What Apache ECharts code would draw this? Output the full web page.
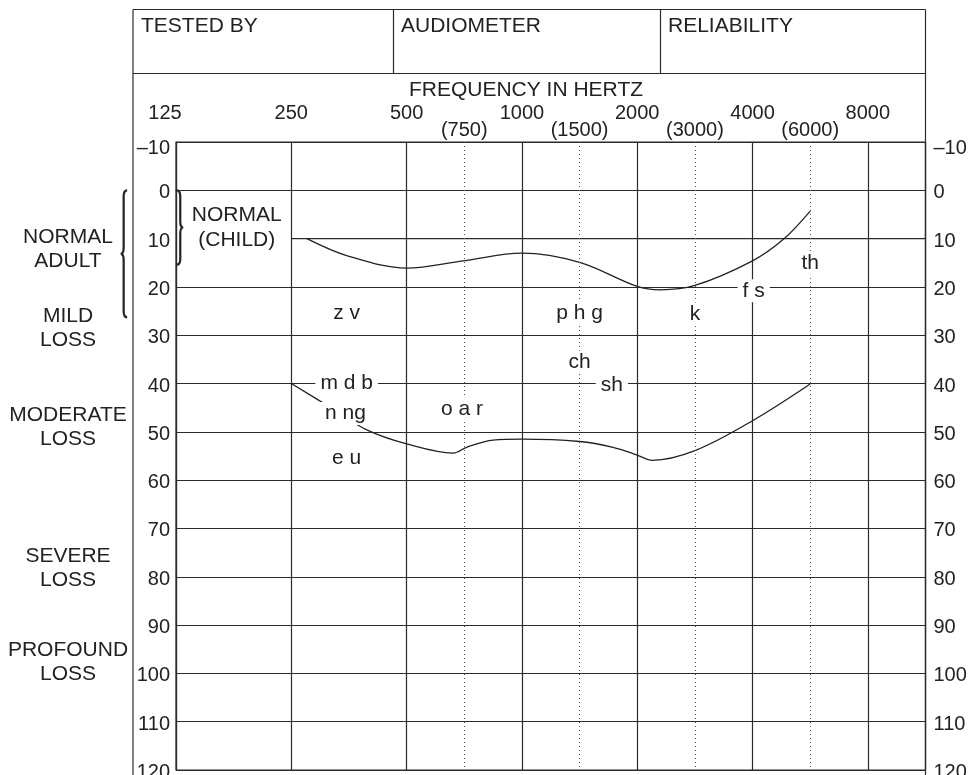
<!DOCTYPE html>
<html>
<head>
<meta charset="utf-8">
<style>
  html, body { margin: 0; padding: 0; background: #fff; }
  #chart { width: 970px; height: 775px; }
</style>
<script src="https://cdn.jsdelivr.net/npm/echarts@6/dist/echarts.min.js"></script>
</head>
<body>
<div id="chart"></div>
<script>
// ---- data ----
// x is measured in octaves from 125 Hz (0 = 125, 1 = 250, ... 6 = 8000); mid-octave lines at .5
const majorX = [0, 1, 2, 3, 4, 5, 6];
const majorLabels = ['125', '250', '500', '1000', '2000', '4000', '8000'];
const minorX = [2.5, 3.5, 4.5, 5.5];
const minorLabels = ['(750)', '(1500)', '(3000)', '(6000)'];
const yTicks = [-10, 0, 10, 20, 30, 40, 50, 60, 70, 80, 90, 100, 110, 120];

const lossBands = ['NORMAL\nADULT', 'MILD\nLOSS', 'MODERATE\nLOSS', 'SEVERE\nLOSS', 'PROFOUND\nLOSS'];
const lossBandDb = [12.1, 28.6, 49.1, 78.3, 97.6];

const headerLabels = ['TESTED BY', 'AUDIOMETER', 'RELIABILITY'];

// speech banana outlines (octave index, dB HL)
const upperCurve = [[1.135, 10], [1.48, 13.5], [2.0, 16.1], [2.49, 14.6], [3.0, 13.0], [3.5, 14.9],
  [4.0, 19.9], [4.2, 20.6], [4.5, 19.7], [5.0, 14.6], [5.27, 10.1], [5.5, 4.3]];
const lowerCurve = [[1, 40], [1.33, 44.8], [1.655, 49.6], [2.0, 52.5], [2.405, 54.4], [2.52, 53.2],
  [2.75, 51.7], [3.0, 51.5], [3.5, 52.0], [3.79, 53.2], [4.0, 54.8], [4.13, 55.9], [4.5, 53.9],
  [5.0, 47.7], [5.5, 40.1]];

// partial 10 dB grid line (absent under the NORMAL (CHILD) note)
const partialGrid10 = [[1, 10], [6.5, 10]];

// speech sounds [x, dB, text]
const sounds = [
  [1.48, 25.4, 'z v'], [3.5, 25.4, 'p h g'], [4.5, 25.6, 'k'], [5.01, 20.8, 'f s'], [5.5, 15.1, 'th'],
  [3.5, 35.6, 'ch'], [1.48, 40, 'm d b'], [3.78, 40.4, 'sh'], [1.47, 46.2, 'n ng'],
  [2.48, 45.3, 'o a r'], [1.48, 55.4, 'e u']
];
const notes = [[0.527, 7.8, 'NORMAL\n(CHILD)']];

// braces [x, dB top, dB bottom, pointing direction (-1 left, +1 right)]
const braces = [[-0.454, 0, 26.3, -1], [0.037, 0, 15.4, 1]];

// ---- chart ----
const INK = '#222';
const LINE = '#2a2a2a';
const FONT = '"Liberation Sans", Arial, Helvetica, sans-serif';
const chart = echarts.init(document.getElementById('chart'), null, { renderer: 'canvas' });

const GL = 176, GR = 925.5, GT = 142, GB = 770;

function dashNum(v) { return v < 0 ? '\u2013' + Math.abs(v) : String(v); }

const option = {
  animation: false,
  backgroundColor: '#fff',
  textStyle: { fontFamily: FONT, color: INK },
  grid: {
    left: GL, top: GT, width: GR - GL, height: GB - GT,
    outerBoundsMode: 'none', containLabel: false,
    show: true, borderColor: LINE, borderWidth: 1.2, backgroundColor: 'transparent'
  },
  xAxis: [
    {
      type: 'value', position: 'top', min: 0, max: 6.5, interval: 1,
      axisLine: { show: true, lineStyle: { color: LINE, width: 1.2 } },
      axisTick: { show: false },
      splitLine: { show: true, lineStyle: { color: LINE, width: 1.2 } },
      axisLabel: {
        margin: 19, fontSize: 20, color: INK, fontFamily: FONT,
        formatter: v => {
          const i = majorX.indexOf(v);
          if (i < 0) return '';
          return i === 0 ? '{a|' + majorLabels[i] + '}' : majorLabels[i];
        },
        rich: { a: { fontSize: 20, fontFamily: FONT, color: INK, padding: [0, 22, 0, 0] } }
      }
    },
    {
      type: 'value', position: 'top', min: 0, max: 6.5,
      axisLine: { show: false }, axisTick: { show: false }, splitLine: { show: false },
      axisLabel: {
        margin: 2, fontSize: 20, color: INK, fontFamily: FONT,
        customValues: minorX,
        formatter: v => { const i = minorX.indexOf(v); return i < 0 ? '' : minorLabels[i]; }
      }
    }
  ],
  yAxis: [
    {
      type: 'value', position: 'left', inverse: true, min: -10, max: 120, interval: 10,
      axisLine: { show: true, lineStyle: { color: LINE, width: 1.2 } },
      axisTick: { show: false },
      splitLine: {
        show: true,
        lineStyle: { color: yTicks.map(v => v === 10 ? 'rgba(0,0,0,0)' : LINE), width: 1.2 }
      },
      axisLabel: {
        margin: 6, fontSize: 20, color: INK, fontFamily: FONT, padding: [5, 0, 0, 0],
        formatter: v => v === -10 ? '{t|' + dashNum(v) + '}' : dashNum(v),
        rich: { t: { fontSize: 20, fontFamily: FONT, color: INK, padding: [8, 0, 0, 0] } }
      }
    },
    {
      type: 'value', position: 'right', inverse: true, min: -10, max: 120, interval: 10,
      axisLine: { show: false }, axisTick: { show: false }, splitLine: { show: false },
      axisLabel: {
        margin: 8, fontSize: 20, color: INK, fontFamily: FONT, padding: [5, 0, 0, 0],
        formatter: v => v === -10 ? '{t|' + dashNum(v) + '}' : dashNum(v),
        rich: { t: { fontSize: 20, fontFamily: FONT, color: INK, padding: [8, 0, 0, 0] } }
      }
    },
    {
      type: 'value', position: 'left', inverse: true, min: -10, max: 120,
      axisLine: { show: false }, axisTick: { show: false }, splitLine: { show: false },
      axisLabel: {
        margin: 108, align: 'center', fontSize: 21, lineHeight: 24, color: INK, fontFamily: FONT,
        customValues: lossBandDb,
        formatter: v => { const i = lossBandDb.indexOf(v); return i < 0 ? '' : lossBands[i]; }
      }
    }
  ],
  series: [
    {
      type: 'line', name: 'grid10', data: partialGrid10, symbol: 'none', silent: true,
      lineStyle: { color: LINE, width: 1.2 }, z: 1,
      markLine: {
        silent: true, symbol: 'none', label: { show: false },
        lineStyle: { color: '#555', width: 1, type: [1, 3] },
        data: minorX.map(v => ({ xAxis: v }))
      }
    },
    {
      type: 'line', name: 'upper', data: upperCurve, smooth: 0.35, symbol: 'none', silent: true,
      lineStyle: { color: INK, width: 1.3 }, z: 3
    },
    {
      type: 'line', name: 'lower', data: lowerCurve, smooth: 0.35, symbol: 'none', silent: true,
      lineStyle: { color: INK, width: 1.3 }, z: 3
    },
    {
      type: 'scatter', name: 'sounds', data: sounds, symbolSize: 1, silent: true, z: 6,
      itemStyle: { color: 'rgba(0,0,0,0)', opacity: 1 },
      label: {
        show: true, position: 'inside', formatter: p => p.data[2],
        fontSize: 21, fontFamily: FONT, color: INK, backgroundColor: '#fff', padding: [1, 5],
        textBorderWidth: 0, textBorderColor: 'transparent', opacity: 1
      }
    },
    {
      type: 'scatter', name: 'notes', data: notes, symbolSize: 1, silent: true, z: 6,
      itemStyle: { color: 'rgba(0,0,0,0)', opacity: 1 },
      label: {
        show: true, position: 'inside', formatter: p => p.data[2],
        fontSize: 21, lineHeight: 25, fontFamily: FONT, color: INK, align: 'center',
        textBorderWidth: 0, textBorderColor: 'transparent', opacity: 1
      }
    },
    {
      type: 'custom', name: 'braces', data: braces, silent: true, clip: false, z: 6,
      renderItem: (params, api) => {
        const x = api.value(0), y0 = api.value(1), y1 = api.value(2), s = api.value(3);
        const a = api.coord([x, y0]), b = api.coord([x, y1]);
        const xm = a[0], ya = a[1], yb = b[1], ym = (ya + yb) / 2;
        const w = 3.5, d = 3, r = 6;
        const p = [
          'M', xm - s * w, ya,
          'Q', xm, ya, xm, ya + r,
          'L', xm, ym - r,
          'Q', xm, ym, xm + s * d, ym,
          'Q', xm, ym, xm, ym + r,
          'L', xm, yb - r,
          'Q', xm, yb, xm - s * w, yb
        ].join(' ');
        return {
          type: 'path',
          shape: { pathData: p },
          style: { fill: 'none', stroke: INK, lineWidth: 2.2 }
        };
      }
    }
  ],
  graphic: [
    // form frame
    { type: 'line', shape: { x1: 133, y1: 9.5, x2: 133, y2: 775 }, style: { stroke: LINE, lineWidth: 1.2 } },
    { type: 'line', shape: { x1: 925.5, y1: 9.5, x2: 925.5, y2: 775 }, style: { stroke: LINE, lineWidth: 1.2 } },
    { type: 'line', shape: { x1: 133, y1: 9.5, x2: 925.5, y2: 9.5 }, style: { stroke: LINE, lineWidth: 1.2 } },
    { type: 'line', shape: { x1: 133, y1: 73.5, x2: 925.5, y2: 73.5 }, style: { stroke: LINE, lineWidth: 1.2 } },
    { type: 'line', shape: { x1: 393.5, y1: 9.5, x2: 393.5, y2: 73.5 }, style: { stroke: LINE, lineWidth: 1.2 } },
    { type: 'line', shape: { x1: 660.5, y1: 9.5, x2: 660.5, y2: 73.5 }, style: { stroke: LINE, lineWidth: 1.2 } },
    { type: 'text', x: 141, y: 26, style: { text: headerLabels[0], font: '21px ' + FONT, fill: INK, textVerticalAlign: 'middle' } },
    { type: 'text', x: 401, y: 26, style: { text: headerLabels[1], font: '21px ' + FONT, fill: INK, textVerticalAlign: 'middle' } },
    { type: 'text', x: 668, y: 26, style: { text: headerLabels[2], font: '21px ' + FONT, fill: INK, textVerticalAlign: 'middle' } },
    { type: 'text', x: 526, y: 90, style: { text: 'FREQUENCY IN HERTZ', font: '21px ' + FONT, fill: INK, textAlign: 'center', textVerticalAlign: 'middle' } }
  ]
};

chart.setOption(option);
</script>
</body>
</html>
